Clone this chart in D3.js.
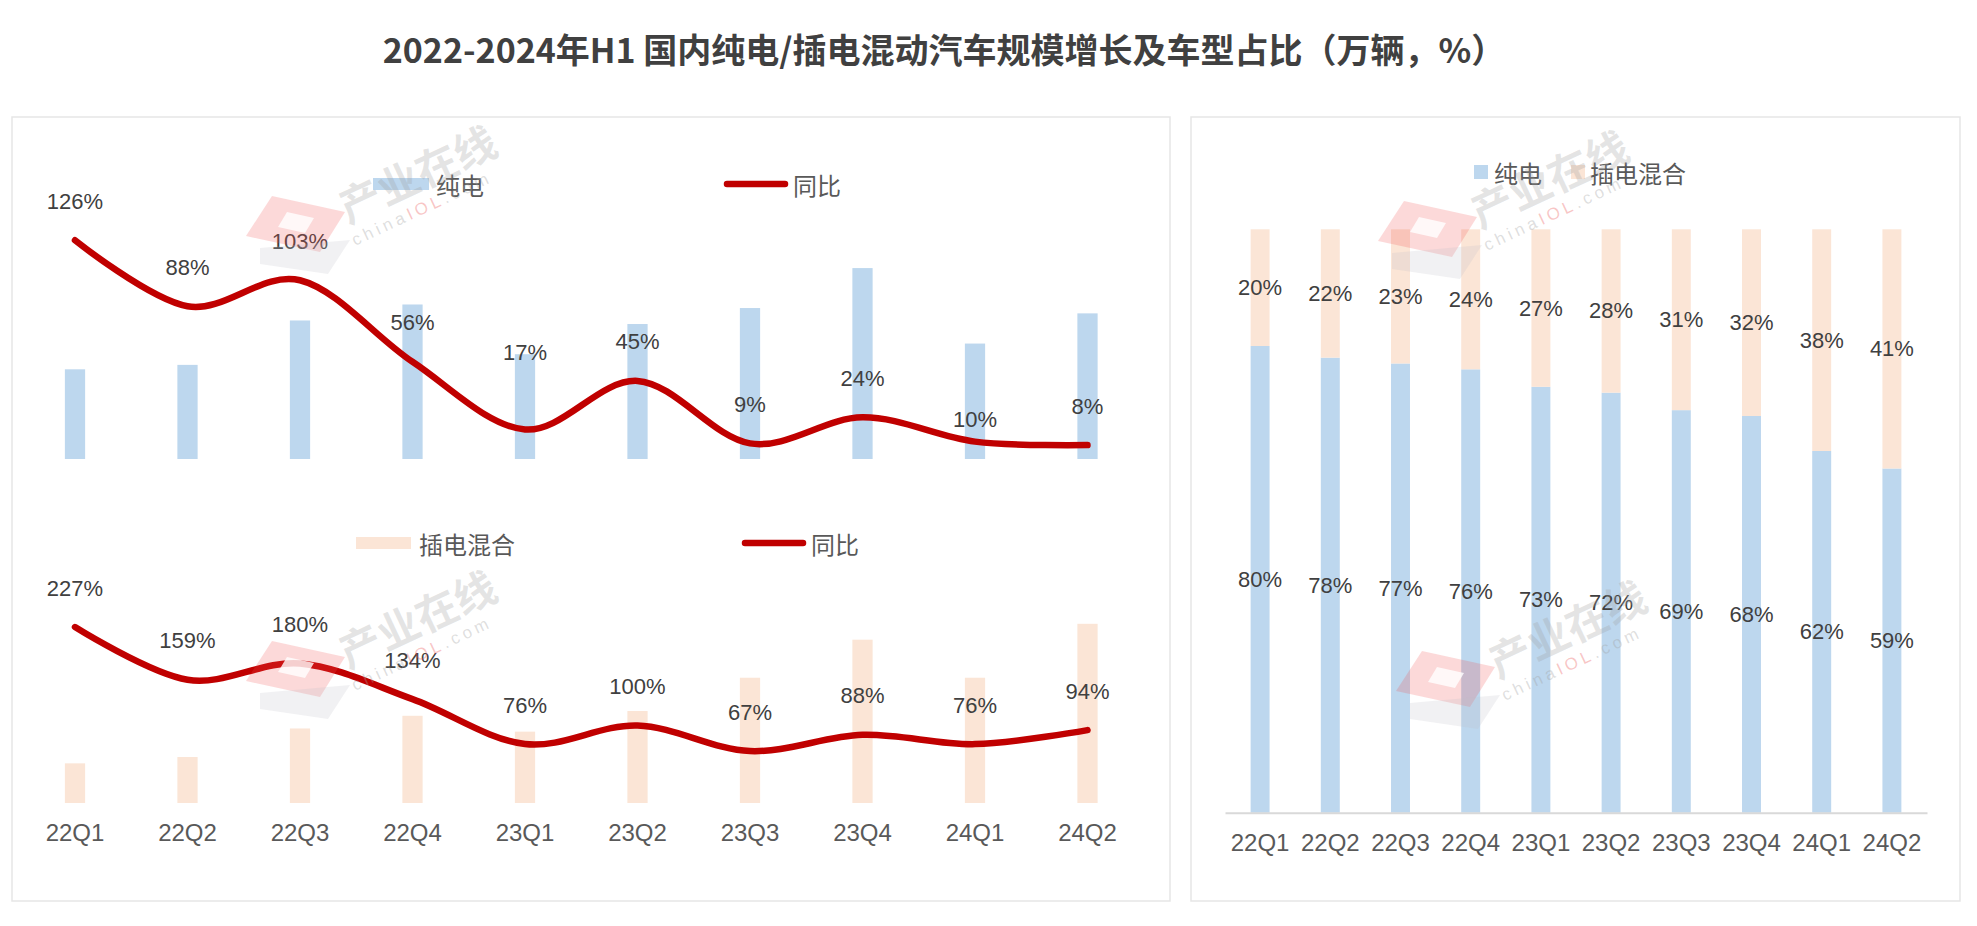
<!DOCTYPE html>
<html><head><meta charset="utf-8">
<script src="https://cdn.jsdelivr.net/npm/d3@7"></script>
<style>
body{margin:0;background:#fff;}
svg{display:block;}
</style></head><body>
<svg id="c" width="1977" height="926"></svg>
<script>
// ---------------- data ----------------
const quarters   = ["22Q1","22Q2","22Q3","22Q4","23Q1","23Q2","23Q3","23Q4","24Q1","24Q2"];
const bevVolume  = [101, 106, 156, 174, 118, 152, 170, 215, 130, 164];   // 万辆
const bevYoY     = [126, 88, 103, 56, 17, 45, 9, 24, 10, 8];              // %
const phevVolume = [25, 29, 47, 55, 45, 58, 79, 103, 79, 113];            // 万辆
const phevYoY    = [227, 159, 180, 134, 76, 100, 67, 88, 76, 94];         // %
const bevShare   = [80, 78, 77, 76, 73, 72, 69, 68, 62, 59];              // %
const phevShare  = [20, 22, 23, 24, 27, 28, 31, 32, 38, 41];              // %
const titleText  = "2022-2024年H1 国内纯电/插电混动汽车规模增长及车型占比（万辆，%）";
const nameBev = "纯电", namePhev = "插电混合", nameYoY = "同比";

// ---------------- styles ----------------
const BLUE = "#BDD7EE", ORANGE = "#FBE5D6", RED = "#C00000";
const LATIN = "'Liberation Sans', Arial, sans-serif";
const CJK = "'Noto Sans CJK SC', 'Liberation Sans', sans-serif";
const svg = d3.select("#c");

// title
svg.append("text").attr("x", 944).attr("y", 48)
  .attr("text-anchor", "middle").attr("dominant-baseline", "central")
  .style("font-family", CJK).style("font-weight", "bold").style("font-size", "34px")
  .attr("fill", "#404040").text(titleText);

// panels
svg.append("rect").attr("x", 12).attr("y", 117).attr("width", 1158).attr("height", 784)
  .attr("fill", "#fff").attr("stroke", "#E6E6E6").attr("stroke-width", 1.5);
svg.append("rect").attr("x", 1191).attr("y", 117).attr("width", 769).attr("height", 784)
  .attr("fill", "#fff").attr("stroke", "#E6E6E6").attr("stroke-width", 1.5);

// ---------------- left panel ----------------
const xL = d3.scaleBand().domain(quarters).range([18.75, 1143.75]);
const bwL = xL.bandwidth() * 0.18;
const cx = q => xL(q) + xL.bandwidth() / 2;
const smooth = d3.curveCardinal.tension(0);

function comboChart(vol, yoy, yBar, yLine, color, labelShift) {
  const g = svg.append("g");
  g.selectAll("rect.bar").data(quarters).join("rect").attr("class", "bar")
    .attr("x", q => cx(q) - bwL / 2)
    .attr("width", bwL)
    .attr("y", (q, i) => yBar(vol[i]))
    .attr("height", (q, i) => yBar(0) - yBar(vol[i]))
    .attr("fill", color);
  const line = d3.line().x((d, i) => cx(quarters[i])).y(d => yLine(d)).curve(smooth);
  g.append("path").attr("d", line(yoy)).attr("fill", "none")
    .attr("stroke", RED).attr("stroke-width", 6.5).attr("stroke-linecap", "round").attr("stroke-linejoin", "round");
  g.selectAll("text.lbl").data(quarters).join("text").attr("class", "lbl")
    .attr("x", q => cx(q))
    .attr("y", (q, i) => yLine(yoy[i]) - 39 + (labelShift[q] || 0))
    .attr("text-anchor", "middle").attr("dominant-baseline", "central")
    .style("font-family", LATIN).style("font-size", "22px").attr("fill", "#404040")
    .text((q, i) => yoy[i] + "%");
  return g;
}

// BEV (top)
const yBev = d3.scaleLinear().domain([0, 250]).range([459, 237]);
const yBevG = d3.scaleLinear().domain([0, 140]).range([459, 216]);
comboChart(bevVolume, bevYoY, yBev, yBevG, BLUE, {"23Q1": -38, "24Q1": 17});

// PHEV (bottom)
const yPhev = d3.scaleLinear().domain([0, 140]).range([803, 581]);
const yPhevG = d3.scaleLinear().domain([0, 300]).range([803, 570.5]);
comboChart(phevVolume, phevYoY, yPhev, yPhevG, ORANGE, {});

// bottom category axis (left)
const axL = svg.append("g").attr("transform", "translate(0,803)")
  .call(d3.axisBottom(xL).tickSize(0).tickSizeOuter(0));
axL.select(".domain").remove();
axL.selectAll("text").attr("y", 30).attr("dy", "0.35em")
  .style("font-family", LATIN).style("font-size", "24px").attr("fill", "#595959");

// legends left
function lineLegend(x, y, label) {
  svg.append("line").attr("x1", x).attr("x2", x + 58).attr("y1", y).attr("y2", y)
    .attr("stroke", RED).attr("stroke-width", 6.5).attr("stroke-linecap", "round");
  svg.append("text").attr("x", x + 66).attr("y", y).attr("dominant-baseline", "central")
    .style("font-family", CJK).style("font-size", "24px").attr("fill", "#595959").text(label);
}
function barLegend(x, y, w, h, color, label, gap) {
  svg.append("rect").attr("x", x).attr("y", y - h / 2).attr("width", w).attr("height", h).attr("fill", color);
  svg.append("text").attr("x", x + w + gap).attr("y", y).attr("dominant-baseline", "central")
    .style("font-family", CJK).style("font-size", "24px").attr("fill", "#595959").text(label);
}
barLegend(373, 184, 56, 12, BLUE, nameBev, 7);
lineLegend(727, 184, nameYoY);
barLegend(356, 543, 55, 12, ORANGE, namePhev, 8);
lineLegend(745, 543, nameYoY);

// ---------------- right panel ----------------
const xR = d3.scaleBand().domain(quarters).range([1225, 1927]);
const bwR = xR.bandwidth() * 0.27;
const yR = d3.scaleLinear().domain([0, 100]).range([812.7, 229.3]);
const table = quarters.map((q, i) => ({q, bev: bevShare[i], phev: phevShare[i]}));
const stack = d3.stack().keys(["bev", "phev"])(table);
const colors = {bev: BLUE, phev: ORANGE};
const gR = svg.append("g");
stack.forEach(layer => {
  gR.append("g").selectAll("rect").data(layer).join("rect")
    .attr("x", d => xR(d.data.q) + xR.bandwidth() / 2 - bwR / 2)
    .attr("width", bwR)
    .attr("y", d => yR(d[1]))
    .attr("height", d => yR(d[0]) - yR(d[1]))
    .attr("fill", colors[layer.key]);
});
stack.forEach(layer => {
  gR.append("g").selectAll("text").data(layer).join("text")
    .attr("x", d => xR(d.data.q) + xR.bandwidth() / 2)
    .attr("y", d => (yR(d[0]) + yR(d[1])) / 2)
    .attr("text-anchor", "middle").attr("dominant-baseline", "central")
    .style("font-family", LATIN).style("font-size", "22px").attr("fill", "#404040")
    .text(d => d.data[layer.key] + "%");
});
const axR = svg.append("g").attr("transform", "translate(0,812.7)")
  .call(d3.axisBottom(xR).tickSize(0).tickSizeOuter(0));
axR.select(".domain").attr("stroke", "#D9D9D9").attr("stroke-width", 2);
axR.selectAll("text").attr("y", 30).attr("dy", "0.35em")
  .style("font-family", LATIN).style("font-size", "24px").attr("fill", "#595959");

// right legend
barLegend(1474, 172, 14, 14, BLUE, nameBev, 6);
barLegend(1571, 172, 14, 14, ORANGE, namePhev, 5);

// ---------------- watermarks ----------------
function watermark(dx, dy) {
  const g = svg.append("g").attr("transform", `translate(${dx},${dy})`).style("pointer-events", "none");
  g.append("polygon").attr("points", "272,196 345,212 320,252 246,236")
    .attr("fill", "rgba(240,80,80,0.22)");
  g.append("polygon").attr("points", "287,212 314,218 305,233 278,227").attr("fill", "rgba(255,255,255,0.8)");
  g.append("polygon").attr("points", "260,248 350,240 328,274 260,264")
    .attr("fill", "rgba(190,190,200,0.22)");
  g.append("text").attr("transform", "translate(348,224) rotate(-25)")
    .style("font-family", CJK).style("font-weight", "bold").style("font-size", "42px")
    .attr("fill", "rgba(160,160,160,0.28)").text("产业在线");
  const t = g.append("text").attr("transform", "translate(355,246) rotate(-25)")
    .style("font-family", LATIN).style("font-size", "17px").style("letter-spacing", "4px")
    .attr("fill", "rgba(160,160,160,0.35)");
  t.append("tspan").text("china");
  t.append("tspan").attr("fill", "rgba(235,90,90,0.35)").text("IOL");
  t.append("tspan").text(".com");
}
watermark(0, 0);
watermark(0, 445);
watermark(1132, 5);
watermark(1150, 455);
</script>
</body></html>
